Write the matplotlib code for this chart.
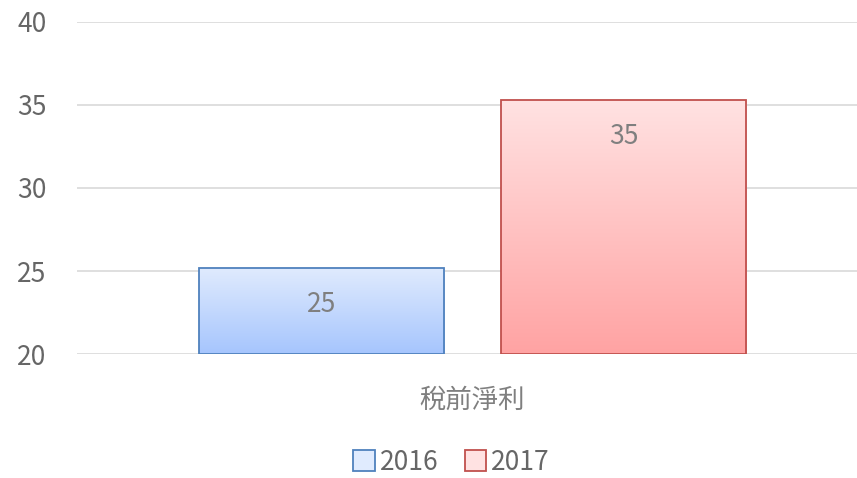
import numpy as np
import matplotlib.pyplot as plt
from matplotlib.colors import LinearSegmentedColormap
from matplotlib.patches import Patch

plt.rcParams['font.family'] = ['Noto Sans CJK TC', 'DejaVu Sans']

# data
category = '稅前淨利'
years = ['2016', '2017']
values = [25.2, 35.3]
labels = ['25', '35']

# styling
top_cols = ['#e0ebfe', '#ffe2e2']
bot_cols = ['#a6c5fd', '#ffa3a3']
edge_cols = ['#4f81bd', '#c0504d']
grey = '#7f7f7f'

fig = plt.figure(figsize=(8.57, 4.78), dpi=100)
ax = fig.add_axes([0.0898, 0.2594, 0.9102, 0.6946])

offsets = [-0.616, 0.616]
width = 1.0
ymin, ymax = 20, 40

for i in range(len(years)):
    x0 = offsets[i] - width / 2
    bar = ax.bar(offsets[i], values[i] - ymin, width, bottom=ymin,
                 facecolor='none', edgecolor=edge_cols[i], linewidth=1.3, zorder=3)[0]
    cmap = LinearSegmentedColormap.from_list('g%d' % i, [bot_cols[i], top_cols[i]])
    grad = np.linspace(0, 1, 256).reshape(-1, 1)
    im = ax.imshow(grad, cmap=cmap, origin='lower', aspect='auto',
                   extent=[x0, x0 + width, ymin, values[i]], zorder=2)
    im.set_clip_path(bar)
    ax.text(offsets[i], values[i] - 2.2, labels[i], ha='center', va='center',
            fontsize=19, color=grey, zorder=4)

ax.set_xlim(-1.614, 1.569)
ax.set_ylim(ymin, ymax)
ax.set_yticks([20, 25, 30, 35, 40])
ax.set_xticks([0])
ax.set_xticklabels([category])
ax.tick_params(axis='y', length=0, pad=22, labelsize=19, labelcolor='#666666')
ax.tick_params(axis='x', length=0, pad=24, labelsize=19, labelcolor=grey)
ax.grid(axis='y', color='#d9d9d9', linewidth=1.2, zorder=0)
for s in ax.spines.values():
    s.set_visible(False)

handles = [Patch(facecolor=top_cols[i], edgecolor=edge_cols[i], linewidth=1.3) for i in range(2)]
fig.legend(handles, years, loc='center', bbox_to_anchor=(0.527, 0.033), ncol=2,
           frameon=False, fontsize=19, labelcolor='#666666', handlelength=0.8,
           handleheight=0.8, handletextpad=0.2, columnspacing=1.0, borderpad=0.1)

fig.savefig('out.png', dpi=100)
